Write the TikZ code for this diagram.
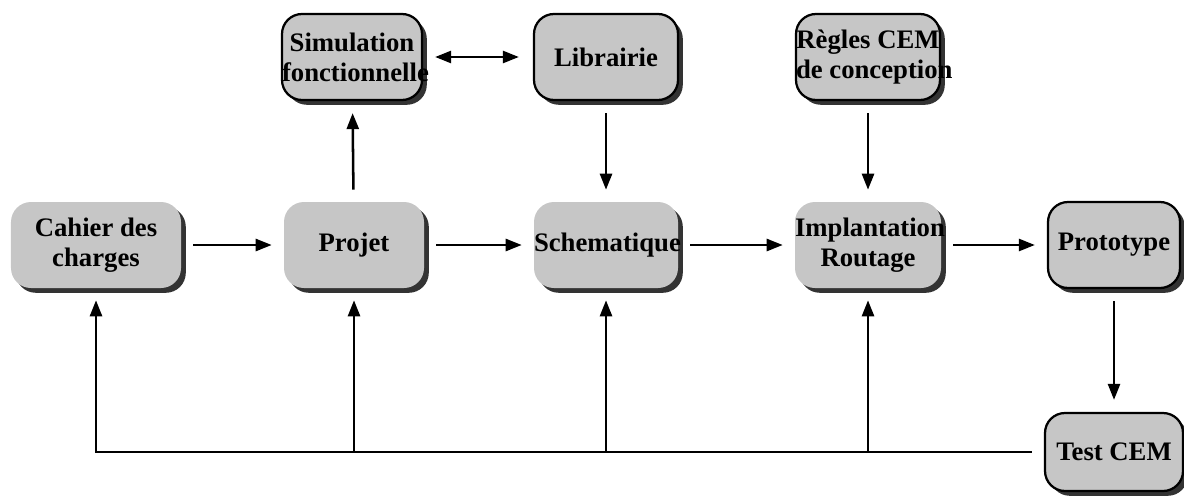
\documentclass[tikz,border=0pt]{standalone}
\usepackage{fontspec}
\setmainfont{Liberation Serif}
\usepackage{tikz}
\usetikzlibrary{arrows.meta,shadows}

\tikzset{
    etape/.style={rounded corners=0.5cm, fill=gray!45, inner sep=0pt,
        text width=#1, align=flush center, minimum height=2.15cm,
        font=\bfseries\fontsize{19}{21.5}\selectfont,
        drop shadow={shadow xshift=0.12cm, shadow yshift=-0.12cm, fill=black!80, opacity=1}},
    cadre/.style={etape=#1, draw=black, line width=1.6pt},
    fleche/.style={-{Triangle[length=0.4cm,width=0.3cm]}, line width=1.8pt, shorten >=0.3cm, shorten <=0.3cm}
}

\begin{document}
\begin{tikzpicture}
    \useasboundingbox (0,0) rectangle (29.6,12.4);

    \node[etape=4.25cm] (1) at (2.4,6.275) {Cahier des\\charges};
    \node[etape=3.5cm] (2) at (8.85,6.275) {Projet};
    \node[etape=3.6cm] (3) at (15.15,6.275) {Schematique};
    \node[etape=3.65cm] (4) at (21.7,6.275) {\mbox{Implantation}\\Routage};
    \node[cadre=3.3cm] (5) at (27.85,6.275) {Prototype};
    \node[cadre=3.5cm] (6) at (8.8,10.975) {Simulation\\\mbox{fonctionnelle}};
    \node[cadre=3.6cm] (7) at (15.15,10.975) {Librairie};
    \node[cadre=3.6cm] (8) at (21.7,10.975) {\mbox{Règles CEM}\\\mbox{de conception}};
    \node[cadre=3.45cm, minimum height=1.95cm] (9) at (27.85,1.1) {Test CEM};

    \path
    (1) [fleche] edge (2)
    (2) [fleche] edge (3)
    (3) [fleche] edge (4)
    (4) [fleche] edge (5)
    (2) [fleche] edge (6)
    (7) [fleche] edge (3)
    (8) [fleche] edge (4)
    (5) [fleche] edge (9)
    (6) [fleche, {Triangle[length=0.4cm,width=0.3cm]}-{Triangle[length=0.4cm,width=0.3cm]}, shorten <=0.3cm, shorten >=0.35cm] edge (7);

    % retour depuis le test CEM
    \draw[fleche] (9.west) -| (1.south);
    \path
    (2.south |- 9.west) [fleche, shorten <=0pt] edge (2)
    (3.south |- 9.west) [fleche, shorten <=0pt] edge (3)
    (4.south |- 9.west) [fleche, shorten <=0pt] edge (4);
\end{tikzpicture}
\end{document}
